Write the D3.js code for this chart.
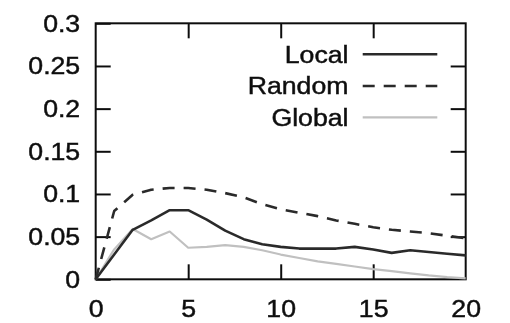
<!DOCTYPE html>
<html>
<head>
<meta charset="utf-8">
<script src="https://cdn.jsdelivr.net/npm/d3@7"></script>
<style>
  html, body { margin: 0; padding: 0; background: #fff; }
  svg { display: block; }
  text { font-family: "Liberation Sans", Arial, sans-serif; fill: #111; stroke: #111; stroke-width: 0.45px; }
</style>
</head>
<body>
<svg id="chart" width="510" height="323"></svg>
<script>
// Hop distance on x, fraction on y, one array per strategy
const hops = d3.range(0, 21);
const localVals  = [0, 0.029, 0.058, 0.069, 0.081, 0.081, 0.070, 0.057, 0.047, 0.041, 0.038,
                    0.036, 0.036, 0.036, 0.038, 0.035, 0.031, 0.034, 0.032, 0.030, 0.028];
const randomVals = [0, 0.080, 0.099, 0.105, 0.107, 0.107, 0.105, 0.101, 0.096, 0.088, 0.082,
                    0.078, 0.074, 0.069, 0.065, 0.061, 0.058, 0.056, 0.054, 0.051, 0.048];
const globalVals = [0, 0.035, 0.059, 0.047, 0.056, 0.037, 0.038, 0.040, 0.038, 0.034, 0.029,
                    0.025, 0.021, 0.018, 0.015, 0.012, 0.0095, 0.007, 0.0045, 0.0025, 0.001];
const xTicks = [0, 5, 10, 15, 20];
const yTicks = [0, 0.05, 0.1, 0.15, 0.2, 0.25, 0.3];
const seriesNames = ["Local", "Random", "Global"];

const series = [
  { name: seriesNames[0], values: localVals,  color: "#2b2b2b", width: 2.6, dash: null },
  { name: seriesNames[1], values: randomVals, color: "#2b2b2b", width: 2.6, dash: "12,9" },
  { name: seriesNames[2], values: globalVals, color: "#c0c0c0", width: 2.2, dash: null }
];

const svg = d3.select("#chart");
const plot = { left: 95.7, right: 465.7, top: 23.3, bottom: 279.3 };
const TICK = 15, FONT = 23, STRETCH = 1.16;

// Soft edges, like a scanned print
svg.append("defs").append("filter").attr("id", "soft")
  .append("feGaussianBlur").attr("stdDeviation", 0.35);
const root = svg.append("g").attr("filter", "url(#soft)");

const x = d3.scaleLinear().domain([0, 20]).range([plot.left, plot.right]);
const y = d3.scaleLinear().domain([0, 0.3]).range([plot.bottom, plot.top]);

function styleAxis(g) {
  g.select(".domain").remove();
  g.selectAll(".tick line").attr("stroke", "#111").attr("stroke-width", 2);
  g.selectAll(".tick text").attr("font-size", FONT).attr("fill", "#111");
}

// Left axis with labels
const gl = root.append("g").attr("transform", `translate(${plot.left},0)`)
  .call(d3.axisLeft(y).tickValues(yTicks).tickSize(-TICK).tickPadding(0)
        .tickFormat(d => d === 0 ? "0" : String(+d.toFixed(2))));
styleAxis(gl);
gl.selectAll(".tick text")
  .attr("x", 0).attr("dy", "0.34em")
  .attr("transform", `translate(-15.5,0) scale(${STRETCH},1)`);

// Right axis, ticks only
const gr = root.append("g").attr("transform", `translate(${plot.right},0)`)
  .call(d3.axisRight(y).tickValues(yTicks.slice(1, -1)).tickSize(-TICK).tickFormat(""));
styleAxis(gr);

// Bottom axis with labels
const gb = root.append("g").attr("transform", `translate(0,${plot.bottom})`)
  .call(d3.axisBottom(x).tickValues(xTicks).tickSize(-TICK).tickPadding(0));
styleAxis(gb);
gb.selectAll(".tick text")
  .attr("y", 0).attr("dy", 0)
  .attr("transform", `translate(0,38) scale(${STRETCH},1)`);
gb.selectAll(".tick").filter(d => d === 0 || d === 20).select("line").remove();

// Top axis, ticks only
const gt = root.append("g").attr("transform", `translate(0,${plot.top})`)
  .call(d3.axisTop(x).tickValues(xTicks.slice(1, -1)).tickSize(-TICK).tickFormat(""));
styleAxis(gt);

// Frame
root.append("rect")
  .attr("x", plot.left).attr("y", plot.top)
  .attr("width", plot.right - plot.left).attr("height", plot.bottom - plot.top)
  .attr("fill", "none").attr("stroke", "#111").attr("stroke-width", 2);

// Data lines (Global underneath)
const line = d3.line().x((d, i) => x(hops[i])).y(d => y(d));
[series[2], series[1], series[0]].forEach(s => {
  root.append("path")
    .datum(s.values)
    .attr("d", line)
    .attr("fill", "none")
    .attr("stroke", s.color)
    .attr("stroke-width", s.width)
    .attr("stroke-linejoin", "round")
    .attr("stroke-dasharray", s.dash);
});

// Legend
const legend = root.append("g");
const rowY = [54.3, 86, 117.3];
series.forEach((s, i) => {
  legend.append("text")
    .attr("text-anchor", "end")
    .attr("font-size", FONT)
    .attr("dy", "0.36em")
    .attr("transform", `translate(348.5,${rowY[i]}) scale(${STRETCH},1)`)
    .text(s.name);
  legend.append("line")
    .attr("x1", 362.7).attr("x2", 437.3)
    .attr("y1", rowY[i]).attr("y2", rowY[i])
    .attr("stroke", s.color)
    .attr("stroke-width", s.width)
    .attr("stroke-dasharray", s.dash);
});
</script>
</body>
</html>
